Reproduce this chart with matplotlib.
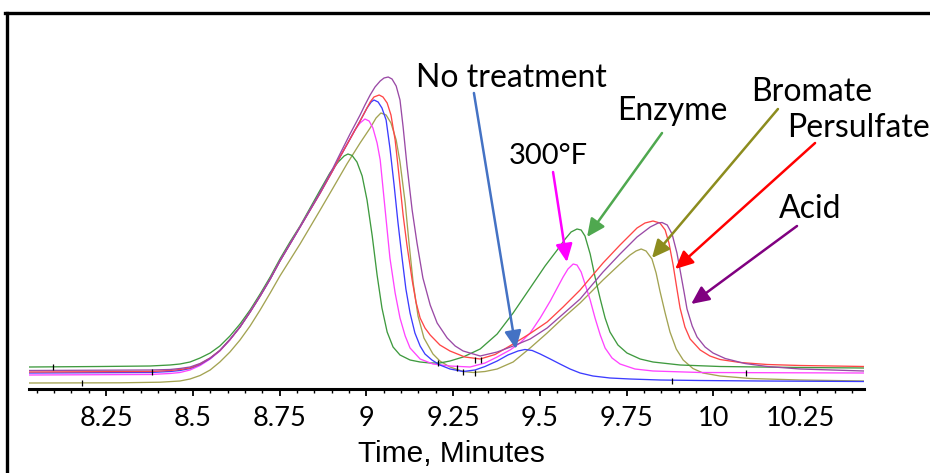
import matplotlib.pyplot as plt
import numpy as np
from matplotlib.lines import Line2D
from matplotlib.ticker import MultipleLocator

# chromatograms: (time in minutes, detector response)
blue = [(8.028, 16), (8.377, 16.5), (8.434, 17.5), (8.463, 18.5), (8.492, 20.5), (8.521, 24.5),
        (8.550, 30.5), (8.578, 38.5), (8.607, 49.5), (8.636, 62), (8.665, 77), (8.694, 93),
        (8.723, 110), (8.751, 128), (8.780, 145), (8.809, 162), (8.838, 179), (8.867, 196),
        (8.904, 219), (8.924, 232), (8.953, 250), (8.982, 268), (9.002, 281), (9.014, 287),
        (9.022, 289), (9.034, 287), (9.045, 281), (9.057, 269), (9.068, 241), (9.080, 204),
        (9.091, 167), (9.103, 131), (9.114, 100), (9.126, 76), (9.140, 56), (9.155, 43),
        (9.169, 35), (9.189, 29), (9.212, 24), (9.241, 20), (9.279, 17.5), (9.313, 19),
        (9.342, 22.5), (9.377, 28), (9.408, 34), (9.437, 38), (9.457, 39.5), (9.478, 38.5),
        (9.501, 35), (9.530, 30), (9.558, 25), (9.587, 20), (9.616, 16), (9.653, 13),
        (9.702, 11), (9.760, 10), (9.846, 9), (9.962, 8.5), (10.135, 8), (10.434, 7.5)]

magenta = [(8.028, 14), (8.377, 14.5), (8.434, 15.5), (8.463, 16.5), (8.492, 19), (8.521, 23.5),
           (8.550, 30), (8.578, 38), (8.607, 49), (8.636, 62), (8.665, 77), (8.694, 93),
           (8.723, 110), (8.751, 128), (8.780, 145), (8.809, 162), (8.838, 179), (8.867, 196),
           (8.904, 219), (8.924, 232), (8.953, 250), (8.967, 259), (8.982, 266), (8.996, 270),
           (9.008, 268), (9.019, 261), (9.031, 246), (9.040, 229), (9.054, 180), (9.068, 131),
           (9.083, 96), (9.097, 71), (9.112, 53), (9.126, 41), (9.155, 30), (9.192, 25),
           (9.241, 23), (9.299, 22), (9.342, 26), (9.377, 32), (9.414, 39), (9.443, 46),
           (9.472, 56), (9.501, 71), (9.530, 88), (9.550, 101), (9.567, 112), (9.581, 120),
           (9.596, 125), (9.607, 124), (9.619, 117), (9.633, 102), (9.645, 89), (9.659, 71),
           (9.674, 54), (9.688, 41), (9.708, 31), (9.731, 25), (9.774, 20), (9.826, 18),
           (9.962, 16.5), (10.434, 16)]

red = [(8.028, 17), (8.377, 17.5), (8.434, 18.5), (8.463, 19.5), (8.492, 21), (8.521, 25),
       (8.550, 31), (8.578, 38.5), (8.607, 49.5), (8.636, 62), (8.665, 77), (8.694, 93),
       (8.723, 110), (8.751, 128), (8.780, 145), (8.809, 162), (8.838, 179), (8.867, 196),
       (8.904, 219), (8.924, 232), (8.953, 250), (8.982, 268), (9.011, 287), (9.022, 292),
       (9.037, 294), (9.048, 292), (9.060, 286), (9.071, 274), (9.083, 249), (9.094, 214),
       (9.106, 174), (9.117, 144), (9.132, 109), (9.143, 87), (9.155, 71), (9.169, 61),
       (9.184, 54), (9.212, 44), (9.241, 38), (9.284, 32), (9.328, 30), (9.371, 34.5),
       (9.423, 45), (9.472, 55.5), (9.521, 67), (9.567, 82), (9.616, 99), (9.682, 126),
       (9.731, 144), (9.780, 161), (9.803, 166), (9.826, 168), (9.846, 166), (9.861, 159),
       (9.872, 146), (9.884, 124), (9.895, 100), (9.904, 81), (9.918, 62), (9.933, 50),
       (9.962, 39), (9.990, 33), (10.019, 29.5), (10.077, 26.5), (10.155, 24.5),
       (10.250, 23.5), (10.434, 22.5)]

purple = [(8.028, 18.5), (8.377, 19), (8.434, 19.5), (8.463, 20.5), (8.492, 22), (8.521, 25.5),
          (8.550, 31), (8.578, 38.5), (8.607, 49.5), (8.636, 62), (8.665, 77), (8.694, 93),
          (8.723, 110), (8.751, 128), (8.780, 145), (8.809, 162), (8.838, 179.5), (8.867, 197),
          (8.904, 221), (8.924, 235), (8.953, 255), (8.982, 274), (8.996, 284), (9.011, 294),
          (9.025, 302), (9.040, 308), (9.051, 311), (9.063, 312), (9.074, 310), (9.086, 303),
          (9.097, 289), (9.106, 262), (9.117, 224), (9.132, 179), (9.146, 146), (9.163, 111),
          (9.184, 84), (9.204, 66), (9.233, 51), (9.256, 43), (9.279, 38), (9.328, 33),
          (9.377, 37), (9.423, 43), (9.472, 50), (9.521, 61), (9.567, 75), (9.616, 90),
          (9.682, 117), (9.731, 135), (9.780, 152), (9.818, 162), (9.841, 166), (9.852, 166.5),
          (9.867, 164), (9.881, 155), (9.895, 136), (9.904, 119), (9.916, 96), (9.924, 80),
          (9.939, 63), (9.953, 52), (9.976, 42), (9.999, 36), (10.034, 30.5), (10.091, 25.5),
          (10.155, 22.5), (10.250, 20), (10.434, 18)]

green = [(8.028, 22), (8.233, 22.5), (8.377, 23), (8.434, 24), (8.463, 25), (8.492, 27),
         (8.521, 31), (8.550, 36), (8.578, 43), (8.607, 53), (8.636, 65), (8.665, 79),
         (8.694, 95), (8.723, 112), (8.751, 130), (8.780, 147), (8.809, 163), (8.838, 181),
         (8.867, 199), (8.895, 216), (8.919, 227), (8.936, 233), (8.947, 235), (8.959, 233.5),
         (8.973, 227), (8.988, 213), (9.002, 189), (9.017, 153), (9.031, 114), (9.045, 81),
         (9.060, 57), (9.077, 42), (9.097, 34), (9.126, 29), (9.155, 27), (9.184, 26),
         (9.212, 26), (9.241, 28), (9.279, 32), (9.328, 40), (9.377, 55), (9.423, 76),
         (9.472, 101), (9.515, 123), (9.550, 139), (9.573, 150), (9.590, 157), (9.607, 160),
         (9.619, 159), (9.630, 153), (9.645, 135), (9.659, 112), (9.674, 90), (9.688, 71),
         (9.702, 57), (9.725, 44), (9.751, 36), (9.789, 30), (9.826, 27), (9.904, 24),
         (10.019, 22.5), (10.250, 21.5), (10.434, 21)]

olive = [(8.028, 6), (8.290, 6.2), (8.406, 6.8), (8.463, 8), (8.492, 10), (8.521, 13.5),
         (8.550, 19), (8.578, 27), (8.607, 37), (8.636, 49), (8.665, 63), (8.694, 79),
         (8.723, 96), (8.751, 113), (8.780, 129), (8.809, 145), (8.838, 162), (8.867, 179),
         (8.904, 201), (8.944, 225), (8.982, 246), (9.011, 261), (9.028, 271), (9.042, 276),
         (9.057, 274), (9.071, 266), (9.086, 249), (9.097, 227), (9.112, 186), (9.123, 146),
         (9.135, 106), (9.149, 73), (9.166, 51), (9.192, 35), (9.212, 28), (9.241, 22),
         (9.279, 17.5), (9.308, 16.5), (9.342, 17.5), (9.377, 20), (9.423, 27), (9.472, 41),
         (9.521, 56), (9.567, 71), (9.616, 86), (9.682, 109), (9.731, 125), (9.760, 134),
         (9.777, 138), (9.792, 140), (9.806, 138), (9.823, 130), (9.835, 116), (9.846, 98),
         (9.861, 76), (9.875, 57), (9.893, 40), (9.913, 29), (9.941, 20.5), (9.970, 16),
         (10.019, 13), (10.106, 10.5), (10.250, 9), (10.434, 8)]

# small integration marks on the traces
marks = [(8.097, 22), (8.181, 6), (8.382, 17), (9.207, 26), (9.261, 21), (9.279, 17.5),
         (9.313, 16.5), (9.313, 29.5), (9.331, 29.5), (9.881, 8.5), (10.094, 16.5)]

major_ticks = [8.25, 8.5, 8.75, 9, 9.25, 9.5, 9.75, 10, 10.25]
tick_labels = ["8.25", "8.5", "8.75", "9", "9.25", "9.5", "9.75", "10", "10.25"]

# label, text position, arrow start, arrow tip, arrow colour
labels = [
    ("No treatment", (9.417, 302), (9.310, 296), (9.431, 40), "#4472c4"),
    ("300°F", (9.524, 225), (9.538, 217), (9.578, 127), "#ff00ff"),
    ("Enzyme", (9.881, 269), (9.852, 256), (9.636, 152), "#4fa84f"),
    ("Bromate", (10.284, 288), (10.186, 280), (9.823, 131), "#8c8c1e"),
    ("Persulfate", (10.417, 252), (10.293, 246), (9.890, 120), "#ff0000"),
    ("Acid", (10.279, 171), (10.241, 163), (9.936, 85), "#800080"),
]

fig = plt.figure(figsize=(9.3, 4.73), dpi=100)
ax = fig.add_axes([29 / 930, 1 - 389 / 473, 835 / 930, 359 / 473])

traces = [(olive, "#a3a352"), (green, "#3f9a3f"), (magenta, "#ff44ff"),
          (blue, "#3c3cff"), (red, "#ff4646"), (purple, "#9a4aa6")]
for data, col in traces:
    t, h = np.array(data).T
    ax.plot(t, h, color=col, lw=0.95)

mt, mh = np.array(marks).T
ax.plot(mt, mh, ls="none", marker="|", ms=5, mew=0.9, color="black")

for text, tpos, start, tip, col in labels:
    size = 21 if text == "300°F" else 23
    ax.text(tpos[0], tpos[1], text, ha="center", va="baseline", fontsize=size,
            family="Lato", color="black", clip_on=False)
    ax.annotate("", xy=tip, xytext=start, annotation_clip=False,
                arrowprops=dict(arrowstyle="-|>,head_length=0.6,head_width=0.28",
                                mutation_scale=18, color=col, lw=1.8,
                                shrinkA=0, shrinkB=0))

ax.set_xlim(8.028, 10.434)
ax.set_ylim(0, 359)
for s in ["left", "right", "top"]:
    ax.spines[s].set_visible(False)
ax.spines["bottom"].set_linewidth(2.2)
ax.set_yticks([])
ax.set_xticks(major_ticks)
ax.set_xticklabels(tick_labels, family="Lato", fontsize=19.5)
ax.xaxis.set_minor_locator(MultipleLocator(0.05))
ax.tick_params(axis="x", which="major", direction="out", length=5, width=1.3, pad=7.5)
ax.tick_params(axis="x", which="minor", direction="out", length=3, width=1.0)
ax.set_xlabel("Time, Minutes", family="Liberation Sans", fontsize=21.5, labelpad=6)
ax.xaxis.label.set_x(0.506)

# frame around the picture (top and left edges are visible)
fig.add_artist(Line2D([5 / 930, 1], [1 - 13.5 / 473] * 2, transform=fig.transFigure,
                      color="black", lw=2.4))
fig.add_artist(Line2D([6.5 / 930] * 2, [0, 1 - 13.5 / 473], transform=fig.transFigure,
                      color="black", lw=2.4))

fig.savefig("out.png", dpi=100)
